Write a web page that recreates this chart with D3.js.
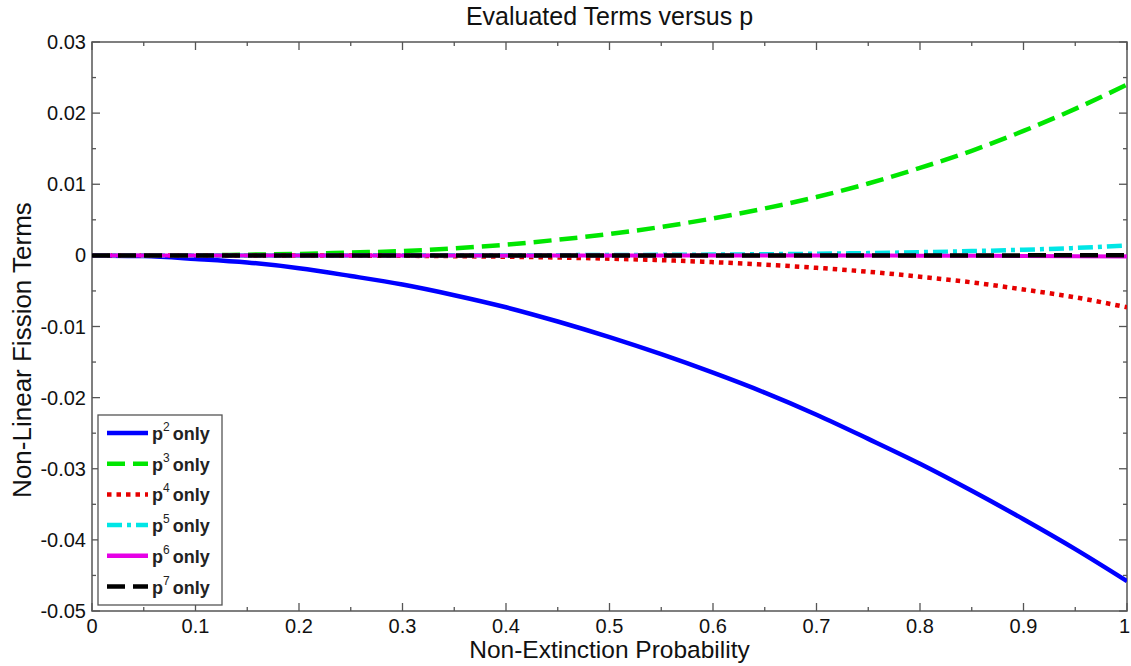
<!DOCTYPE html>
<html>
<head>
<meta charset="utf-8">
<script src="https://cdn.jsdelivr.net/npm/d3@7"></script>
<style>
  body { margin: 0; background: #fff; }
  svg { display: block; font-family: "Liberation Sans", Arial, sans-serif; }
</style>
</head>
<body>
<svg id="chart" width="1131" height="666"></svg>
<script>
// Non-extinction probability grid
const pValues = [0, 0.05, 0.1, 0.15, 0.2, 0.25, 0.3, 0.35, 0.4, 0.45, 0.5,
                 0.55, 0.6, 0.65, 0.7, 0.75, 0.8, 0.85, 0.9, 0.95, 1];

// Evaluated non-linear fission terms, one array per power of p
const termP2 = [0, -0.0001, -0.0005, -0.0010, -0.0018, -0.0029, -0.0041, -0.0056, -0.0073, -0.0093, -0.0115,
                -0.0139, -0.0165, -0.0193, -0.0224, -0.0258, -0.0293, -0.0331, -0.0371, -0.0413, -0.0458];
const termP3 = [0, 0.0000, 0.0000, 0.0001, 0.0002, 0.0004, 0.0006, 0.0010, 0.0015, 0.0022, 0.0030,
                0.0040, 0.0052, 0.0066, 0.0082, 0.0101, 0.0123, 0.0147, 0.0175, 0.0206, 0.0240];
const termP4 = [0, 0, 0, 0, -0.00002, -0.00003, -0.00006, -0.00011, -0.00019, -0.0003, -0.00046,
                -0.00067, -0.00095, -0.0013, -0.00175, -0.0023, -0.0030, -0.0038, -0.0048, -0.0059, -0.0073];
const termP5 = [0, 0, 0, 0, 0, 0, 0.00001, 0.00001, 0.00002, 0.00003, 0.00005,
                0.00008, 0.00011, 0.00016, 0.00023, 0.00032, 0.00045, 0.00060, 0.00079, 0.00104, 0.00140];
const termP6 = [0, 0, 0, 0, 0, 0, 0, 0, 0, 0, 0,
                0, -0.00001, -0.00001, -0.00002, -0.00003, -0.00004, -0.00006, -0.00008, -0.00011, -0.00015];
const termP7 = [0, 0, 0, 0, 0, 0, 0, 0, 0, 0, 0,
                0, 0, 0, 0, 0, 0, 0, 0, 0.00001, 0.00002];

const seriesNames = ["2", "3", "4", "5", "6", "7"];
const seriesValues = [termP2, termP3, termP4, termP5, termP6, termP7];
const seriesColors = ["#0000ff", "#00e600", "#e60000", "#00e6e6", "#e600e6", "#000000"];
const seriesDash = [null, "18,8", "4.5,5", "15,5,4,5", null, "18,8"];

const xTicks = [0, 0.1, 0.2, 0.3, 0.4, 0.5, 0.6, 0.7, 0.8, 0.9, 1];
const yTicks = [0.03, 0.02, 0.01, 0, -0.01, -0.02, -0.03, -0.04, -0.05];

const svg = d3.select("#chart");
const margin = { left: 92, right: 4, top: 42, bottom: 55 };
const W = 1131, H = 666;
const x = d3.scaleLinear().domain([0, 1]).range([margin.left, W - margin.right]);
const y = d3.scaleLinear().domain([-0.05, 0.03]).range([H - margin.bottom, margin.top]);

const axisColor = "#555";

// Plot frame
svg.append("rect")
  .attr("x", x(0)).attr("y", y(0.03))
  .attr("width", x(1) - x(0)).attr("height", y(-0.05) - y(0.03))
  .attr("fill", "none").attr("stroke", axisColor).attr("stroke-width", 1.5);

// Inward ticks on all four sides (major + minor)
const xMinor = d3.range(0.05, 1, 0.1);
const yMinor = d3.range(-0.045, 0.03, 0.01);
const tickG = svg.append("g").attr("stroke", axisColor).attr("stroke-width", 1.3);
function xTick(v, len) {
  tickG.append("line").attr("x1", x(v)).attr("x2", x(v)).attr("y1", y(-0.05)).attr("y2", y(-0.05) - len);
  tickG.append("line").attr("x1", x(v)).attr("x2", x(v)).attr("y1", y(0.03)).attr("y2", y(0.03) + len);
}
function yTick(v, len) {
  tickG.append("line").attr("x1", x(0)).attr("x2", x(0) + len).attr("y1", y(v)).attr("y2", y(v));
  tickG.append("line").attr("x1", x(1)).attr("x2", x(1) - len).attr("y1", y(v)).attr("y2", y(v));
}
xTicks.forEach(v => xTick(v, 8));
xMinor.forEach(v => xTick(v, 4));
yTicks.forEach(v => yTick(v, 8));
yMinor.forEach(v => yTick(v, 4));

// Tick labels (plain hyphen for negatives); the last x label is kept inside the page edge
const fmt = v => String(+v.toFixed(2));
svg.append("g").selectAll("text").data(xTicks).join("text")
  .attr("x", d => d === 1 ? W - 1 : x(d)).attr("y", 633)
  .attr("text-anchor", d => d === 1 ? "end" : "middle")
  .attr("font-size", 20).attr("fill", "#111")
  .text(d => fmt(d));
svg.append("g").selectAll("text").data(yTicks).join("text")
  .attr("x", x(0) - 6).attr("y", d => y(d) + 7)
  .attr("text-anchor", "end").attr("font-size", 20).attr("fill", "#111")
  .text(d => fmt(d));

// Title and axis labels
svg.append("text").attr("x", (x(0) + x(1)) / 2).attr("y", 25)
  .attr("text-anchor", "middle").attr("font-size", 25).attr("fill", "#111")
  .text("Evaluated Terms versus p");
svg.append("text").attr("x", (x(0) + x(1)) / 2).attr("y", 658)
  .attr("text-anchor", "middle").attr("font-size", 24.5).attr("fill", "#111")
  .text("Non-Extinction Probability");
svg.append("text").attr("transform", "translate(31,350) rotate(-90)")
  .attr("text-anchor", "middle").attr("font-size", 26).attr("fill", "#111")
  .text("Non-Linear Fission Terms");

// Series lines
const line = d3.line().x((d, i) => x(pValues[i])).y(d => y(d)).curve(d3.curveMonotoneX);
svg.append("clipPath").attr("id", "plotClip").append("rect")
  .attr("x", x(0)).attr("y", y(0.03)).attr("width", x(1) - x(0)).attr("height", y(-0.05) - y(0.03));
const linesG = svg.append("g").attr("clip-path", "url(#plotClip)");
seriesValues.forEach((vals, k) => {
  linesG.append("path").datum(vals)
    .attr("d", line)
    .attr("fill", "none")
    .attr("stroke", seriesColors[k])
    .attr("stroke-width", k === 4 ? 4 : 4.5)
    .attr("stroke-dasharray", seriesDash[k])
    .attr("stroke-linejoin", "round");
});

// Legend
const lg = svg.append("g");
lg.append("rect").attr("x", 98).attr("y", 415).attr("width", 124).attr("height", 190)
  .attr("fill", "#fff").attr("stroke", axisColor).attr("stroke-width", 1.3);
seriesNames.forEach((name, k) => {
  const yy = 433 + k * 30.7;
  lg.append("line").attr("x1", 107).attr("x2", 148).attr("y1", yy).attr("y2", yy)
    .attr("stroke", seriesColors[k]).attr("stroke-width", 4.5)
    .attr("stroke-dasharray", seriesDash[k]);
  const t = lg.append("text").attr("x", 152).attr("y", yy + 7)
    .attr("font-size", 18).attr("font-weight", "bold").attr("fill", "#222");
  t.append("tspan").text("p");
  t.append("tspan").attr("dy", -9).attr("font-size", 12).attr("font-weight", "normal").text(name);
  t.append("tspan").attr("dy", 9).attr("dx", 3).text("only");
});
</script>
</body>
</html>
